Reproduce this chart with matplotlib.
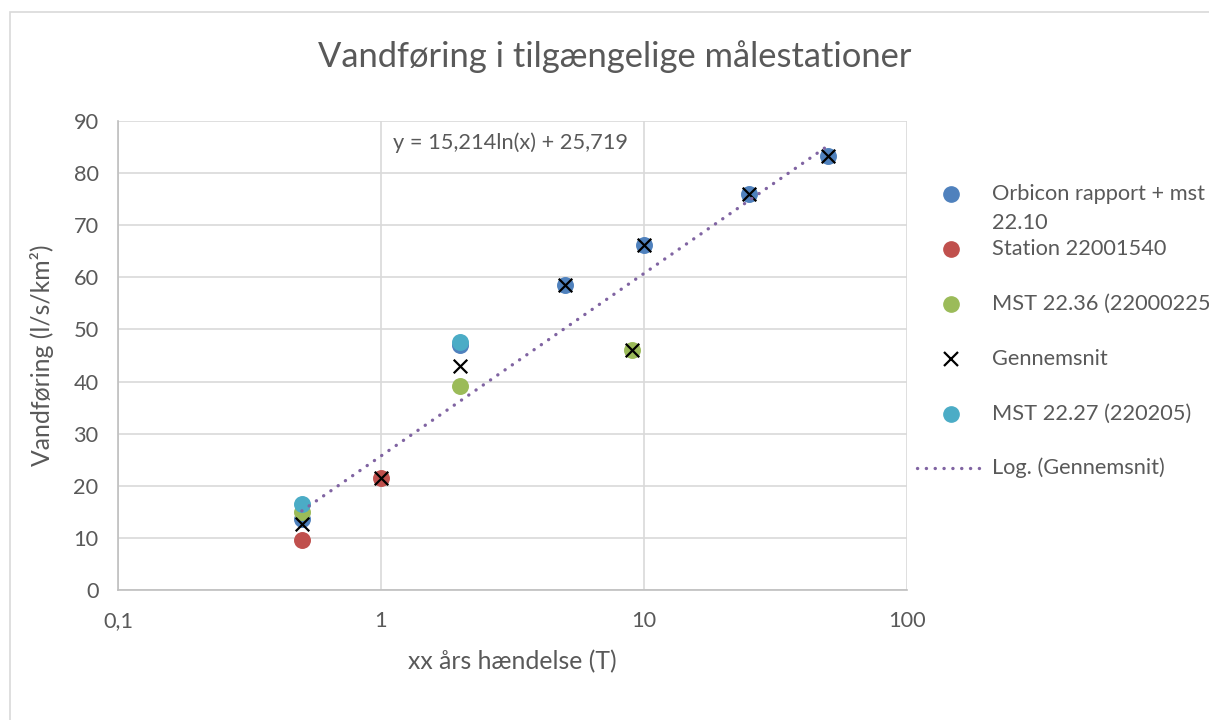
import numpy as np
import matplotlib
matplotlib.use("Agg")
import matplotlib.pyplot as plt
from matplotlib.patches import Rectangle
from matplotlib.lines import Line2D
from matplotlib.ticker import FixedLocator, FuncFormatter, NullLocator

plt.rcParams['font.family'] = ['Lato', 'DejaVu Sans']

# data (T in years, flow in l/s/km2)
orbicon_t = [0.5, 2, 5, 10, 25, 50]
orbicon_q = [13.6, 47.0, 58.5, 66.2, 76.0, 83.3]
station_t = [0.5, 1]
station_q = [9.6, 21.5]
mst2236_t = [0.5, 2, 9]
mst2236_q = [14.9, 39.2, 46.1]
mean_t = [0.5, 1, 2, 5, 9, 10, 25, 50]
mean_q = [12.7, 21.5, 43.0, 58.5, 46.1, 66.2, 76.0, 83.3]
mst2227_t = [0.5, 2]
mst2227_q = [16.5, 47.5]

# log trendline from the chart label
trend_a = 15.214
trend_b = 25.719
trend_label = "y = 15,214ln(x) + 25,719"

txt = '#595959'
grid = '#d9d9d9'
c_blue, c_red, c_green, c_cyan, c_purple = '#4f81bd', '#c0504d', '#9bbb59', '#4bacc6', '#8064a2'

W, H = 1209, 720
fig = plt.figure(figsize=(W / 100, H / 100), dpi=100)
ax = fig.add_axes([118 / W, 1 - 590 / H, (907 - 118) / W, (590 - 121) / H])

# outer chart border
fig.patches.append(Rectangle((10 / W, -0.1), 1.2, 1.1 - 12 / H, transform=fig.transFigure,
                             fill=False, edgecolor=grid, lw=1.2))

ms = 125
ax.scatter(orbicon_t, orbicon_q, s=ms, color=c_blue, zorder=3)
ax.scatter(station_t, station_q, s=ms, color=c_red, zorder=3)
ax.scatter(mst2236_t, mst2236_q, s=ms, color=c_green, zorder=3)
ax.scatter(mean_t, mean_q, s=95, marker='x', color='black', linewidths=1.6, zorder=4)
ax.scatter(mst2227_t, mst2227_q, s=ms, color=c_cyan, zorder=5)

tx = np.linspace(min(mean_t), max(mean_t), 300)
ax.plot(tx, trend_a * np.log(tx) + trend_b, color=c_purple, lw=2.4,
        linestyle=(0, (0.05, 2.6)), dash_capstyle='round', zorder=6)

ax.set_xscale('log')
ax.set_xlim(0.1, 100)
ax.set_ylim(0, 90)
ax.xaxis.set_major_locator(FixedLocator([0.1, 1, 10, 100]))
ax.xaxis.set_minor_locator(NullLocator())
ax.xaxis.set_major_formatter(FuncFormatter(lambda v, p: ('%g' % v).replace('.', ',')))
ax.set_yticks(np.arange(0, 91, 10))

ax.grid(True, color=grid, lw=1.2, zorder=0)
ax.set_axisbelow(True)
for s in ['top', 'right']:
    ax.spines[s].set_visible(False)
for s in ['left', 'bottom']:
    ax.spines[s].set_color('#bfbfbf')
    ax.spines[s].set_linewidth(1.2)
ax.tick_params(axis='both', length=0, labelsize=15.7, colors=txt)
ax.tick_params(axis='x', pad=15)
ax.tick_params(axis='y', pad=14)

ax.set_xlabel('xx års hændelse (T)', fontsize=17.8, color=txt, va='center', ha='center')
ax.set_ylabel('Vandføring (l/s/km²)', fontsize=17.8, color=txt, va='center', ha='center')
ax.xaxis.set_label_coords(0.5, (590 - 662) / 469)
ax.yaxis.set_label_coords((42 - 118) / 789, 0.5)

fig.text(615 / W, 1 - 57 / H, 'Vandføring i tilgængelige målestationer', ha='center', va='center',
         fontsize=24.8, color=txt)
ax.text(0.497, 0.953, trend_label, transform=ax.transAxes, ha='center', va='center',
        fontsize=15.7, color=txt)

# legend, laid out like the Excel one (marker beside the first line of a wrapped label)
leg_labels = ['Orbicon rapport + mst\n22.10', 'Station 22001540', 'MST 22.36 (22000225)',
              'Gennemsnit', 'MST 22.27 (220205)', 'Log. (Gennemsnit)']
leg_y = [194, 249, 304, 359, 414, 468]
leg_style = [dict(marker='o', color=c_blue, ms=11, ls='none'),
             dict(marker='o', color=c_red, ms=11, ls='none'),
             dict(marker='o', color=c_green, ms=11, ls='none'),
             dict(marker='x', color='black', ms=9.5, mew=1.6, ls='none'),
             dict(marker='o', color=c_cyan, ms=11, ls='none'),
             dict(color=c_purple, lw=2.4, ls=(0, (0.05, 2.6)), dash_capstyle='round')]
for lab, y, st in zip(leg_labels, leg_y, leg_style):
    yf = 1 - y / H
    if st.get('marker'):
        fig.add_artist(Line2D([950.5 / W], [yf], transform=fig.transFigure, **st))
    else:
        fig.add_artist(Line2D([917 / W, 985 / W], [yf, yf], transform=fig.transFigure, **st))
    lines = lab.split('\n')
    for k, part in enumerate(lines):
        fig.text(992 / W, 1 - (y + 29 * k) / H, part, ha='left', va='center',
                 fontsize=15.7, color=txt)

fig.savefig('out.png', dpi=100)
